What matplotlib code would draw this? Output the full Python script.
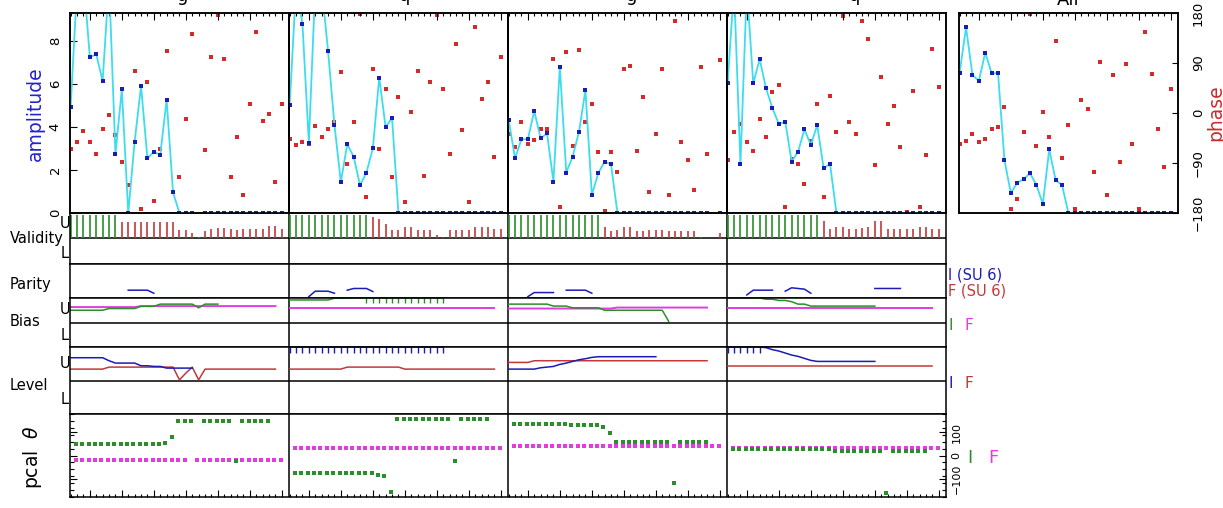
import numpy as np
import matplotlib
matplotlib.use("Agg")
from matplotlib import pyplot as plt
from matplotlib.ticker import FixedLocator, MultipleLocator

nan = np.nan

# ---------------- top row: amplitude (blue/cyan) and phase (red), 34 channels
amp_p1 = [4.93, 10.5, 11.0, 7.24, 7.38, 6.14, 10.8, 2.74, 5.75, 0.0,
          3.32, 5.9, 2.54, 2.85, 2.7, 5.26, 0.96, 0.0, 0.0, 0.0,
          nan, 0.0, 0.0, 0.0, 0.0, 0.0, 0.0, 0.0, 0.0, 0.0,
          0.0, 0.0, 0.0, 0.0]
phs_p1 = [-65, -53, -32, -52, -73, -29, -4, -39, -89, -130,
          76, -172, 55, -158, -65, 112, -142, -115, -11, 142,
          nan, -67, 100, 177, 97, -115, -44, -148, 16, 145,
          -14, -1, -124, 16]
amp_p2 = [5.0, 10.5, 8.8, 3.27, 10.5, 10.5, 7.55, 4.1, 1.44, 3.2,
          2.62, 1.29, 1.88, 3.0, 6.3, 3.98, 4.43, 0.0, 0.0, 0.0,
          0.0, 0.0, 0.0, 0.0, 0.0, 0.0, 0.0, 0.0, 0.0, 0.0,
          0.0, 0.0, 0.0, 0.0]
phs_p2 = [-46, -58, -53, -55, -23, -43, -29, -16, 73, -91,
          -17, 178, -152, 80, -65, 43, -115, 28, -161, 1,
          76, -113, 55, 176, 43, -74, 124, -31, -161, 155,
          25, 55, -79, 100]
amp_p3 = [4.33, 2.54, 3.43, 3.43, 4.74, 3.47, 3.7, 1.46, 6.8, 1.88,
          2.62, 3.78, 5.72, 0.84, 1.85, 2.39, 2.26, 0.0, 0.0, 0.0,
          0.0, 0.0, 0.0, 0.0, 0.0, 0.0, 0.0, 0.0, 0.0, 0.0,
          0.0, 0.0, nan, 0.0]
phs_p3 = [-37, -61, -17, -56, -49, -28, -29, 98, -170, 109,
          -59, 113, -16, 17, -71, -176, -71, -106, 80, 85,
          -68, 28, -143, -37, 79, -148, 166, -52, -85, -139,
          83, -74, nan, 95]
amp_p4 = [6.03, 10.5, 2.28, 10.5, 6.03, 7.15, 5.8, 4.87, 4.14, 4.25,
          2.39, 2.85, 3.89, 3.16, 4.09, 2.08, 2.28, 0.0, 0.0, 0.0,
          0.0, 0.0, 0.0, 0.0, 0.0, 0.0, 0.0, 0.0, 0.0, 0.0,
          0.0, 0.0, 0.0, 0.0]
phs_p4 = [-85, -35, -20, -52, -68, -10, -43, 38, 50, -170,
          -83, -92, -128, -50, 16, -151, 31, -35, 175, -17,
          -38, 166, 133, -94, 64, -20, 13, -62, -179, 40,
          -170, -76, 115, 47]
amp_all = [6.53, 8.63, 6.42, 6.14, 7.46, 6.5, 6.5, 2.47, 0.92, 1.41,
           1.57, 1.85, 1.3, 0.42, 2.96, 1.53, 1.3, 0.0, 0.0, 0.0,
           0.0, 0.0, 0.0, 0.0, 0.0, 0.0, 0.0, 0.0, 0.0, 0.0,
           0.0, 0.0, 0.0, 0.0]
phs_all = [-56, -50, -37, -53, -47, -29, -25, 10, -172, -155,
           -34, 179, -59, 1, -43, 130, -81, -22, -172, 23,
           8, -107, 91, -148, 68, -89, 89, -55, -173, 145,
           70, -29, -98, 44]
titles = ["g", "q", "g", "q", "All"]
amp_ticks = [0, 2, 4, 6, 8]
phase_ticks = [-180, -90, 0, 90, 180]
pcal_ticks = [-100, 0, 100]

# ---------------- Validity (fraction of U half), first n channels green
valid_p1 = [0.92, 0.92, 0.92, 0.92, 0.92, 0.92, 0.92, 0.92, 0.65, 0.65,
            0.65, 0.65, 0.65, 0.65, 0.65, 0.65, 0.65, 0.32, 0.32, 0.2,
            0.04, 0.3, 0.38, 0.42, 0.42, 0.38, 0.35, 0.38, 0.38, 0.38,
            0.38, 0.5, 0.48, 0.38]
valid_p2 = [0.92, 0.92, 0.92, 0.92, 0.92, 0.92, 0.92, 0.92, 0.92, 0.92,
            0.92, 0.92, 0.92, 0.85, 0.75, 0.55, 0.32, 0.32, 0.45, 0.45,
            0.32, 0.35, 0.32, 0.13, 0.07, 0.35, 0.32, 0.32, 0.32, 0.45,
            0.45, 0.45, 0.38, 0.38]
valid_p3 = [0.92, 0.92, 0.92, 0.92, 0.92, 0.92, 0.92, 0.92, 0.92, 0.92,
            0.92, 0.92, 0.92, 0.92, 0.92, 0.45, 0.28, 0.32, 0.45, 0.45,
            0.28, 0.28, 0.32, 0.35, 0.35, 0.28, 0.28, 0.28, 0.28, 0.28,
            0.07, 0.03, nan, 0.2]
valid_p4 = [0.92, 0.92, 0.92, 0.92, 0.92, 0.92, 0.92, 0.92, 0.92, 0.92,
            0.92, 0.92, 0.92, 0.92, 0.92, 0.7, 0.38, 0.45, 0.45, 0.38,
            0.38, 0.4, 0.45, 0.7, 0.7, 0.38, 0.38, 0.38, 0.38, 0.38,
            0.45, 0.45, 0.38, 0.38]
n_green = [8, 13, 15, 15]

# ---------------- Parity (I, SU 6)
par_p1 = [nan, nan, nan, nan, nan, nan, nan, nan, nan, 0.23,
          0.23, 0.23, 0.23, 0.14, nan, nan, nan, nan, nan, nan,
          nan, nan, nan, nan, nan, nan, nan, nan, nan, nan,
          nan, nan, nan, nan]
par_p2 = [nan, nan, nan, 0.04, 0.2, 0.2, 0.2, 0.14, nan, 0.23,
          0.28, 0.28, 0.28, 0.19, nan, nan, nan, nan, nan, nan,
          nan, nan, nan, nan, nan, nan, nan, nan, nan, nan,
          nan, nan, nan, nan]
par_p3 = [nan, nan, nan, 0.04, 0.16, 0.16, 0.16, 0.16, nan, 0.23,
          0.23, 0.23, 0.23, 0.14, nan, nan, nan, nan, nan, nan,
          nan, nan, nan, nan, nan, nan, nan, nan, nan, nan,
          nan, nan, nan, nan]
par_p4 = [nan, nan, nan, 0.09, 0.23, 0.23, 0.23, 0.23, nan, 0.2,
          0.3, 0.28, 0.26, 0.14, nan, nan, nan, nan, nan, nan,
          nan, nan, nan, 0.28, 0.28, 0.28, 0.28, 0.28, nan, nan,
          nan, nan, nan, nan]

# ---------------- Bias (I green, F magenta); >1 means off scale
bias_i_p1 = [0.5, 0.5, 0.5, 0.5, 0.5, 0.5, 0.57, 0.57, 0.57, 0.57,
             0.57, 0.66, 0.66, 0.66, 0.75, 0.75, 0.75, 0.75, 0.75, 0.75,
             0.6, 0.75, 0.75, 0.75, nan, nan, nan, nan, nan, nan,
             nan, nan, nan, nan]
bias_f_p1 = [0.63, 0.63, 0.63, 0.63, 0.63, 0.63, 0.63, 0.63, 0.63, 0.63,
             0.63, 0.67, 0.67, 0.67, 0.67, 0.67, 0.67, 0.67, 0.67, 0.67,
             0.67, 0.67, 0.67, 0.67, 0.67, 0.67, 0.67, 0.67, 0.67, 0.67,
             0.67, 0.67, 0.67, nan]
bias_i_p2 = [0.92, 0.92, 0.92, 0.92, 0.92, 0.92, 0.92, 0.99, 0.99, 0.99,
             1.0, 1.0, 1.5, 1.5, 1.5, 1.5, 1.5, 1.5, 1.5, 1.5,
             1.5, 1.5, 1.5, 1.5, 1.5, nan, nan, nan, nan, nan,
             nan, nan, nan, nan]
bias_f_p2 = [0.61, 0.61, 0.61, 0.61, 0.61, 0.61, 0.61, 0.61, 0.61, 0.61,
             0.61, 0.61, 0.61, 0.61, 0.61, 0.61, 0.61, 0.61, 0.61, 0.61,
             0.61, 0.61, 0.61, 0.61, 0.61, 0.61, 0.61, 0.61, 0.61, 0.61,
             0.61, 0.61, 0.61, nan]
bias_i_p3 = [0.75, 0.75, 0.75, 0.75, 0.75, 0.75, 0.75, 0.67, 0.67, 0.67,
             0.6, 0.6, 0.6, 0.6, 0.6, 0.5, 0.5, 0.5, 0.5, 0.5,
             0.5, 0.5, 0.5, 0.5, 0.5, 0.05, nan, nan, nan, nan,
             nan, nan, nan, nan]
bias_f_p3 = [0.57, 0.57, 0.57, 0.57, 0.57, 0.57, 0.57, 0.57, 0.57, 0.57,
             0.57, 0.57, 0.57, 0.57, 0.57, 0.57, 0.57, 0.61, 0.61, 0.61,
             0.61, 0.61, 0.61, 0.61, 0.61, 0.61, 0.61, 0.61, 0.61, 0.61,
             0.61, 0.61, nan, nan]
bias_i_p4 = [1.0, 1.0, 1.0, 1.0, 1.0, 1.0, 0.95, 0.95, 0.9, 0.9,
             0.85, 0.75, 0.75, 0.67, 0.67, 0.67, 0.67, 0.67, 0.67, 0.67,
             0.67, 0.67, 0.67, 0.67, nan, nan, nan, nan, nan, nan,
             nan, nan, nan, nan]
bias_f_p4 = [0.61, 0.61, 0.61, 0.61, 0.61, 0.61, 0.61, 0.61, 0.61, 0.61,
             0.61, 0.61, 0.61, 0.61, 0.61, 0.61, 0.61, 0.61, 0.61, 0.61,
             0.61, 0.61, 0.61, 0.61, 0.61, 0.61, 0.61, 0.61, 0.61, 0.61,
             0.61, 0.61, 0.61, nan]

# ---------------- Level (I blue, F red); >1 means off scale
lev_i_p1 = [0.68, 0.68, 0.68, 0.68, 0.68, 0.68, 0.59, 0.52, 0.52, 0.52,
            0.52, 0.44, 0.44, 0.42, 0.42, 0.37, 0.37, 0.37, 0.37, 0.37,
            nan, nan, nan, nan, nan, nan, nan, nan, nan, nan,
            nan, nan, nan, nan]
lev_f_p1 = [0.34, 0.34, 0.34, 0.34, 0.34, 0.34, 0.4, 0.4, 0.4, 0.4,
            0.4, 0.4, 0.4, 0.4, 0.4, 0.4, 0.4, 0.02, 0.22, 0.4,
            0.02, 0.34, 0.34, 0.34, 0.34, 0.34, 0.34, 0.34, 0.34, 0.34,
            0.34, 0.34, 0.34, nan]
lev_i_p2 = [1.5, 1.5, 1.5, 1.5, 1.5, 1.5, 1.5, 1.5, 1.5, 1.5,
            1.5, 1.5, 1.5, 1.5, 1.5, 1.5, 1.5, 1.5, 1.5, 1.5,
            1.5, 1.5, 1.5, 1.5, 1.5, nan, nan, nan, nan, nan,
            nan, nan, nan, nan]
lev_f_p2 = [0.34, 0.34, 0.34, 0.34, 0.34, 0.34, 0.34, 0.34, 0.34, 0.4,
            0.4, 0.4, 0.4, 0.4, 0.4, 0.4, 0.4, 0.4, 0.34, 0.34,
            0.34, 0.34, 0.34, 0.34, 0.34, 0.34, 0.34, 0.34, 0.34, 0.34,
            0.34, 0.34, 0.34, nan]
lev_i_p3 = [0.34, 0.34, 0.34, 0.34, 0.34, 0.38, 0.4, 0.42, 0.48, 0.52,
            0.57, 0.62, 0.65, 0.69, 0.71, 0.71, 0.71, 0.71, 0.71, 0.71,
            0.71, 0.71, 0.71, 0.71, nan, nan, nan, nan, nan, nan,
            nan, nan, nan, nan]
lev_f_p3 = [0.54, 0.54, 0.54, 0.54, 0.59, 0.59, 0.59, 0.59, 0.59, 0.59,
            0.59, 0.59, 0.59, 0.59, 0.59, 0.59, 0.59, 0.59, 0.59, 0.59,
            0.59, 0.59, 0.59, 0.59, 0.59, 0.59, 0.59, 0.59, 0.59, 0.59,
            0.59, 0.59, nan, nan]
lev_i_p4 = [1.5, 1.5, 1.5, 1.5, 1.5, 1.5, 0.98, 0.92, 0.88, 0.82,
            0.76, 0.72, 0.66, 0.6, 0.57, 0.57, 0.57, 0.57, 0.57, 0.57,
            0.57, 0.57, 0.57, 0.57, nan, nan, nan, nan, nan, nan,
            nan, nan, nan, nan]
lev_f_p4 = [0.44, 0.44, 0.44, 0.44, 0.44, 0.44, 0.44, 0.44, 0.44, 0.44,
            0.44, 0.44, 0.44, 0.44, 0.44, 0.44, 0.44, 0.44, 0.44, 0.44,
            0.44, 0.44, 0.44, 0.44, 0.44, 0.44, 0.44, 0.44, 0.44, 0.44,
            0.44, 0.44, 0.44, nan]

# ---------------- pcal theta, degrees (I green, F magenta)
pcal_i_p1 = [49, 49, 49, 49, 49, 49, 49, 49, 49, 49,
             49, 49, 49, 49, 56, 79, 151, 151, 151, nan,
             151, 151, 151, 151, 151, -24, 151, 151, 151, 151,
             151, nan, nan, nan]
pcal_f_p1 = [-20, -20, -20, -20, -20, -20, -20, -20, -20, -20,
             -20, -20, -20, -20, -20, -20, -20, -20, nan, -20,
             -20, -20, -20, -20, -20, -20, -20, -20, -20, -20,
             -20, -20, -20, nan]
pcal_i_p2 = [-77, -77, -77, -77, -77, -77, -77, -77, -77, -77,
             -77, -77, -77, -83, -90, -157, 159, 159, 159, 159,
             159, 159, 159, 159, 159, -23, 159, 159, 159, 159,
             159, nan, nan, nan]
pcal_f_p2 = [34, 34, 34, 34, 34, 34, 34, 34, 34, 34,
             34, 34, 34, 34, 34, 34, 34, 34, 34, 34,
             34, 34, 34, 34, 34, 34, 34, 34, 34, 34,
             34, 34, 34, nan]
pcal_i_p3 = [136, 136, 136, 136, 136, 136, 136, 136, 136, 132,
             132, 132, 132, 132, 125, 97, 60, 60, 60, 60,
             60, 60, 60, 60, 60, -118, 60, 60, 60, 60,
             60, nan, nan, nan]
pcal_f_p3 = [43, 43, 43, 43, 43, 43, 43, 43, 43, 43,
             43, 43, 43, 43, 43, 43, 43, 43, 43, 43,
             43, 43, 43, 43, 43, 43, 43, 43, 43, 43,
             43, 43, 43, nan]
pcal_i_p4 = [27, 27, 27, 27, 27, 27, 27, 27, 27, 27,
             27, 27, 27, 27, 27, 27, 19, 19, 19, 19,
             19, 19, 19, 19, -162, 19, 19, 19, 19, 19,
             19, nan, nan, nan]
pcal_f_p4 = [32, 32, 32, 32, 32, 32, 32, 32, 32, 32,
             32, 32, 32, 32, 32, 32, 32, 32, 32, 32,
             32, 32, 32, 32, 32, 32, 32, 32, 32, 32,
             32, 32, 32, nan]

amps = [amp_p1, amp_p2, amp_p3, amp_p4, amp_all]
phases = [phs_p1, phs_p2, phs_p3, phs_p4, phs_all]
valids = [valid_p1, valid_p2, valid_p3, valid_p4]
parity = [par_p1, par_p2, par_p3, par_p4]
bias_i = [bias_i_p1, bias_i_p2, bias_i_p3, bias_i_p4]
bias_f = [bias_f_p1, bias_f_p2, bias_f_p3, bias_f_p4]
lev_i = [lev_i_p1, lev_i_p2, lev_i_p3, lev_i_p4]
lev_f = [lev_f_p1, lev_f_p2, lev_f_p3, lev_f_p4]
pcal_i = [pcal_i_p1, pcal_i_p2, pcal_i_p3, pcal_i_p4]
pcal_f = [pcal_f_p1, pcal_f_p2, pcal_f_p3, pcal_f_p4]

CYAN = "#3ddcee"
BLUE = "#1c1cb4"
RED = "#d42a2a"
GREEN = "#2a8f2a"
DRED = "#c23838"
MAG = "#e03ce0"
LW = 1.1

NCH = 34
W = 34.22            # panel width in channel units
chan = np.arange(NCH)
major_k = [3, 8, 13, 18, 23, 28, 33]

fig = plt.figure(figsize=(12.23, 5.08), dpi=100)


def box(x0, y0, x1, y1):
    return [x0 / 1223, 1 - y1 / 508, (x1 - x0) / 1223, (y1 - y0) / 508]


def ftext(x, y, s, **kw):
    fig.text(x / 1223, 1 - y / 508, s, **kw)


def frame(ax):
    for sp in ax.spines.values():
        sp.set_linewidth(LW)


def rot_labels(ax, ticks, size):
    # rotated tick labels centred on their ticks
    ax.set_yticks(ticks)
    ax.set_yticklabels([str(t).replace("-", "\u2212") for t in ticks],
                       rotation=90, va="center", fontsize=size)


# ---------------- top row
for p in range(5):
    x0 = 70 + 219 * p if p < 4 else 959
    ax = fig.add_axes(box(x0, 13, x0 + 219, 213))
    axp = ax.twinx()
    ax.set_zorder(axp.get_zorder() + 1)
    ax.patch.set_visible(False)

    axp.plot(chan, phases[p], "s", color=RED, ms=2.6, mew=0)
    ax.plot(chan, amps[p], color=CYAN, lw=1.3)
    ax.plot(chan, amps[p], "s", color=BLUE, ms=2.2, mew=0)

    ax.set_xlim(-0.1, W - 0.1)
    ax.set_ylim(0, 9.3)
    axp.set_ylim(-180, 180)
    ax.xaxis.set_major_locator(FixedLocator(major_k))
    ax.xaxis.set_minor_locator(FixedLocator(chan))
    ax.tick_params(axis="x", which="both", direction="in", top=True, bottom=False,
                   labelbottom=False, width=0.8)
    ax.tick_params(axis="x", which="major", length=5)
    ax.tick_params(axis="x", which="minor", length=2.5)
    if p == 0:
        rot_labels(ax, amp_ticks, 9.5)
        ax.tick_params(axis="y", direction="in", length=5, width=0.8, pad=6)
    else:
        ax.set_yticks([])
    if p == 4:
        rot_labels(axp, phase_ticks, 9.5)
        axp.tick_params(axis="y", direction="in", length=4, width=0.8, pad=10)
    else:
        axp.set_yticks([])
    frame(ax)
    frame(axp)
    tx = [183, 405, 632, 855, 1068][p]
    ty = [1, 1, 1, 1, 5][p]
    ftext(tx, ty, titles[p], ha="center", va="baseline", fontsize=13)

# ---------------- lower rows share one x axis across the four panels
XMAX = 4 * W - 0.1


def lower_axes(y0, y1, ylim, mid=True):
    ax = fig.add_axes(box(70, y0, 946, y1))
    ax.set_xlim(-0.1, XMAX)
    ax.set_ylim(*ylim)
    ax.set_xticks([])
    ax.set_yticks([])
    for p in range(1, 4):
        ax.axvline(p * W - 0.1, color="black", lw=LW)
    if mid:
        ax.axhline(0, color="black", lw=LW)
    frame(ax)
    return ax


def clipped(ax, x, v, color):
    v = np.asarray(v, float)
    ax.plot(x, np.minimum(v, 1.0), color=color, lw=LW)
    over = v > 1.0
    ax.plot(x[over], np.full(over.sum(), 0.9), "|", color=color, ms=4.5, mew=1.0)


ax_v = lower_axes(213, 264, (-1, 1))
ax_par = lower_axes(264, 298, (0, 1), mid=False)
ax_b = lower_axes(298, 347, (-1, 1))
ax_l = lower_axes(347, 414, (-1, 1))
ax_pc = lower_axes(414, 497, (-180, 180), mid=False)

for p in range(4):
    xg = p * W + chan
    vals = np.asarray(valids[p], float)
    colors = [GREEN if k < n_green[p] else DRED for k in chan]
    ax_v.vlines(xg, 0, vals, colors=colors, lw=1.2)

    ax_par.plot(xg, parity[p], color=BLUE, lw=LW)

    ax_b.plot(xg, bias_f[p], color=MAG, lw=1.4)
    clipped(ax_b, xg, bias_i[p], GREEN)

    ax_l.plot(xg, lev_f[p], color=DRED, lw=LW)
    clipped(ax_l, xg, lev_i[p], BLUE)

    xp = xg + 0.8
    ax_pc.plot(xp, pcal_f[p], "s", color=MAG, ms=2.2, mew=0)
    ax_pc.plot(xp, pcal_i[p], "s", color=GREEN, ms=2.8, mew=0)

# pcal ticks
minor_x = [p * W + k for p in range(4) for k in chan]
major_x = [p * W + k for p in range(4) for k in major_k]
ax_pc.xaxis.set_major_locator(FixedLocator(major_x))
ax_pc.xaxis.set_minor_locator(FixedLocator(minor_x))
ax_pc.tick_params(axis="x", which="both", direction="in", bottom=True,
                  labelbottom=False, width=0.8)
ax_pc.tick_params(axis="x", which="major", length=5)
ax_pc.tick_params(axis="x", which="minor", length=2.5)
rot_labels(ax_pc, pcal_ticks, 8)
ax_pc.yaxis.set_minor_locator(MultipleLocator(30))
ax_pc.tick_params(axis="y", which="both", direction="in", left=True, right=True,
                  labelleft=False, labelright=True, width=0.8, pad=4)
ax_pc.tick_params(axis="y", which="major", length=5)
ax_pc.tick_params(axis="y", which="minor", length=3)

# ---------------- labels
ftext(35, 114, "amplitude", rotation=90, ha="center", va="center",
      fontsize=13.5, color="#2222cc")
ftext(1216, 113, "phase", rotation=90, ha="center", va="center",
      fontsize=13.5, color="#cc2a2a")

row_kw = dict(ha="left", va="center", fontsize=10.5)
ul_kw = dict(ha="center", va="center", fontsize=10.5)
ftext(65, 224, "U", **ul_kw)
ftext(10, 239, "Validity", **row_kw)
ftext(65, 253, "L", **ul_kw)
ftext(10, 284, "Parity", **row_kw)
ftext(65, 310, "U", **ul_kw)
ftext(10, 322, "Bias", **row_kw)
ftext(65, 335, "L", **ul_kw)
ftext(65, 364, "U", **ul_kw)
ftext(10, 385, "Level", **row_kw)
ftext(65, 399, "L", **ul_kw)
ftext(33, 457, "pcal  $\\theta$", rotation=90, ha="center", va="center", fontsize=13.5)

ftext(948, 275, "I (SU 6)", ha="left", va="center", fontsize=10.5, color=BLUE)
ftext(948, 291, "F (SU 6)", ha="left", va="center", fontsize=10.5, color=DRED)
ftext(949, 325, "I", ha="left", va="center", fontsize=11, color=GREEN)
ftext(964, 325, "F", ha="left", va="center", fontsize=11, color=MAG)
ftext(949, 383, "I", ha="left", va="center", fontsize=11, color=BLUE)
ftext(964, 383, "F", ha="left", va="center", fontsize=11, color=DRED)
ftext(967, 458, "I", ha="left", va="center", fontsize=13, color=GREEN)
ftext(988, 458, "F", ha="left", va="center", fontsize=13, color=MAG)

fig.savefig("out.png", dpi=100)
